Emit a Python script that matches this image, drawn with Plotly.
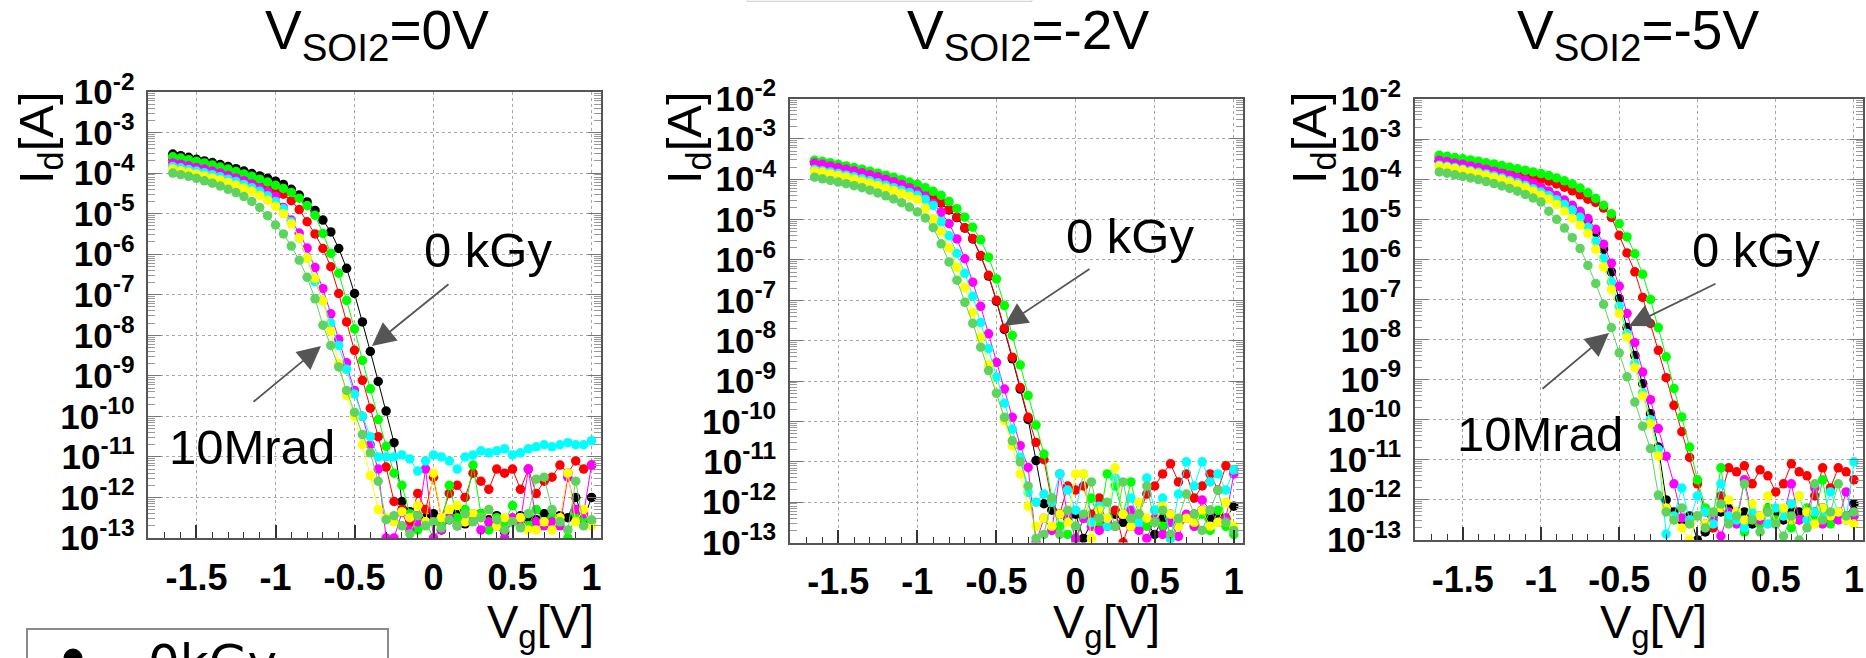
import plotly.graph_objects as go

# ---------------- data (log10 of drain current I_d [A]) -------------
vg = [-1.65, -1.60, -1.55, -1.50, -1.45, -1.40, -1.35, -1.30, -1.25, -1.20,
      -1.15, -1.10, -1.05, -1.00, -0.95, -0.90, -0.85, -0.80, -0.75, -0.70,
      -0.65, -0.60, -0.55, -0.50, -0.45, -0.40, -0.35, -0.30, -0.25, -0.20,
      -0.15, -0.10, -0.05, 0.00, 0.05, 0.10, 0.15, 0.20, 0.25, 0.30,
      0.35, 0.40, 0.45, 0.50, 0.55, 0.60, 0.65, 0.70, 0.75, 0.80,
      0.85, 0.90, 0.95, 1.00]

# V_SOI2 = 0 V
p1_black = [-3.53, -3.57, -3.61, -3.66, -3.70, -3.74, -3.79, -3.84, -3.89, -3.95, -4.01, -4.07, -4.13, -4.20,
            -4.28, -4.40, -4.54, -4.71, -4.92, -5.16, -5.45, -5.86, -6.35, -6.97, -7.67, -8.40, -9.14, -9.87, -10.65, -12.10,
            -12.35, -12.45, -12.50, -12.40, -12.80, -12.55, -12.35, -12.65, -12.55, -12.40, -12.55, -12.45, -12.85, -12.60,
            -12.45, -12.50, -12.55, -12.40, -12.50, -12.45, -12.50, -12.00, -12.55, -12.00]
p1_green = [-3.60, -3.63, -3.67, -3.71, -3.75, -3.80, -3.85, -3.90, -3.96, -4.02, -4.08, -4.15, -4.22, -4.30,
            -4.38, -4.48, -4.62, -4.80, -5.04, -5.49, -5.98, -6.47, -7.14, -7.84, -8.62, -9.32, -10.08, -10.74, -11.40,
            -11.70, -12.40, -12.80, -12.60, -13.00, -12.70, -11.70, -12.50, -12.30, -11.20, -12.40, -12.80, -12.50,
            -12.60, -12.20, -12.50, -12.70, -12.30, -12.60, -12.50, -12.60, -13.00, -12.40, -12.50, -12.60]
p1_red = [-3.66, -3.70, -3.74, -3.78, -3.82, -3.87, -3.92, -3.97, -4.03, -4.09, -4.16, -4.23, -4.31, -4.40,
          -4.52, -4.68, -4.90, -5.20, -5.50, -5.86, -6.31, -6.97, -7.67, -8.37, -9.11, -9.80, -10.50, -11.25, -12.10,
          -12.30, -12.60, -11.90, -12.30, -11.50, -12.50, -11.90, -11.70, -12.00, -11.40, -11.60, -11.80, -11.30,
          -11.40, -11.30, -11.80, -11.30, -11.90, -11.60, -11.50, -11.20, -11.40, -11.10, -11.30, -11.20]
p1_magenta = [-3.75, -3.78, -3.82, -3.86, -3.90, -3.95, -4.00, -4.06, -4.12, -4.19, -4.27, -4.36, -4.46,
              -4.58, -4.85, -5.16, -5.48, -5.85, -6.33, -6.85, -7.47, -8.10, -8.68, -9.36, -10.00, -10.70, -11.30, -13.00, -13.00,
              -12.37, -12.80, -12.60, -11.30, -13.00, -12.80, -12.50, -12.70, -12.60, -12.40, -12.80, -12.60, -12.70,
              -13.00, -12.50, -12.60, -11.30, -12.60, -12.70, -12.60, -12.70, -11.50, -12.30, -12.40, -11.20]
p1_cyan = [-3.84, -3.87, -3.91, -3.95, -3.99, -4.04, -4.09, -4.15, -4.21, -4.28, -4.36, -4.45, -4.56, -4.70,
           -4.88, -5.20, -5.60, -6.10, -6.68, -7.15, -7.70, -8.25, -8.84, -9.45, -10.00, -10.50, -11.00,
           -11.00, -11.00, -10.95, -11.05, -11.35, -11.10, -10.95, -11.00, -11.10, -11.30, -11.00, -10.95, -10.85,
           -10.90, -10.85, -10.80, -10.95, -10.90, -10.80, -10.75, -10.70, -10.75, -10.70, -10.65, -10.70, -10.70, -10.60]
p1_yellow = [-3.90, -3.94, -3.98, -4.02, -4.07, -4.12, -4.17, -4.23, -4.30, -4.37, -4.45, -4.55, -4.67, -4.82,
             -5.00, -5.25, -5.60, -6.10, -6.60, -7.15, -7.90, -8.70, -9.48, -10.00, -10.70, -11.46,
             -12.30, -12.50, -12.60, -12.35, -12.50, -12.20, -12.60, -11.40, -12.50, -12.30, -12.20, -12.60, -12.40,
             -12.50, -12.30, -12.70, -12.50, -12.60, -12.50, -12.80, -12.80, -12.60, -12.80, -12.50, -11.40, -12.60,
             -12.30, -12.70]
p1_lgreen = [-4.00, -4.04, -4.08, -4.13, -4.19, -4.25, -4.32, -4.40, -4.48, -4.58, -4.70, -4.85, -5.05,
             -5.28, -5.50, -5.80, -6.15, -6.57, -7.10, -7.75, -8.25, -8.78, -9.36, -9.90, -10.45, -10.90, -11.60,
             -12.55, -12.45, -12.70, -12.90, -12.45, -12.70, -12.60, -12.75, -12.55, -12.70, -12.40, -12.60, -12.50,
             -12.30, -12.55, -12.80, -12.60, -12.75, -12.40, -11.55, -11.50, -12.30, -12.60, -12.80, -11.60, -12.70, -12.55]

# V_SOI2 = -2 V
p2_black = [-3.57, -3.60, -3.64, -3.68, -3.72, -3.76, -3.81, -3.86, -3.91, -3.97, -4.03, -4.10, -4.17, -4.25,
            -4.34, -4.45, -4.59, -4.76, -4.95, -5.21, -5.48, -5.90, -6.40, -7.02, -7.72, -8.45, -9.20, -9.95, -10.97, -12.04,
            -12.20, -12.30, -12.40, -12.30, -12.90, -12.50, -12.60, -12.50, -12.30, -12.50, -12.60, -12.40, -12.50,
            -12.80, -12.40, -12.30, -12.50, -12.40, -12.30, -12.20, -12.40, -12.30, -12.40, -12.10]
p2_red = [-3.56, -3.59, -3.63, -3.67, -3.71, -3.75, -3.80, -3.85, -3.90, -3.96, -4.02, -4.09, -4.16, -4.24,
          -4.33, -4.44, -4.58, -4.75, -4.94, -5.20, -5.47, -5.89, -6.38, -7.00, -7.69, -8.41, -9.16, -9.90, -10.52, -10.95,
          -12.00, -12.30, -11.60, -11.70, -11.60, -12.30, -11.90, -12.60, -12.20, -13.00, -12.40, -12.30, -11.80,
          -11.60, -11.30, -11.05, -11.50, -11.30, -11.90, -11.60, -11.30, -11.70, -11.10, -11.20]
p2_green = [-3.53, -3.56, -3.59, -3.63, -3.67, -3.71, -3.75, -3.80, -3.85, -3.90, -3.95, -4.01, -4.07, -4.13,
            -4.21, -4.30, -4.40, -4.55, -4.73, -4.94, -5.19, -5.50, -5.93, -6.47, -7.13, -7.87, -8.60, -9.36, -10.09,
            -10.81, -11.90,
            -12.60, -12.80, -13.00, -12.40, -11.90, -12.50, -11.30, -11.60, -12.30, -11.50, -12.40, -12.60, -12.20,
            -12.60, -12.90, -12.50, -12.40, -12.60, -12.30, -12.70, -12.20, -12.60, -12.80]
p2_magenta = [-3.60, -3.63, -3.67, -3.71, -3.75, -3.79, -3.84, -3.89, -3.94, -4.00, -4.06, -4.13, -4.21, -4.30,
              -4.42, -4.60, -4.82, -5.10, -5.48, -5.97, -6.55, -7.15, -7.83, -8.54, -9.20, -9.90, -10.60, -11.14, -13.00,
              -12.40, -12.70, -11.30, -12.30, -12.90, -12.40, -12.60, -12.70, -12.50, -12.60, -12.30, -12.20, -12.70,
              -12.90, -12.40, -12.80, -12.50, -12.85, -12.30, -12.60, -11.95, -12.20, -12.50, -12.40, -11.30]
p2_cyan = [-3.76, -3.79, -3.82, -3.86, -3.90, -3.94, -3.99, -4.04, -4.09, -4.15, -4.21, -4.27, -4.33, -4.40,
           -4.50, -4.65, -5.05, -5.40, -5.84, -6.33, -6.90, -7.55, -8.20, -8.90, -9.55, -10.19, -10.89, -11.76, -12.00,
           -11.80, -12.00, -11.30, -11.70, -12.20, -11.30, -12.50, -12.10, -12.60, -11.40, -12.30, -11.90, -12.50,
           -11.40, -12.20, -11.90, -12.90, -11.80, -11.00, -11.60, -11.00, -11.50, -11.30, -11.70, -11.20]
p2_yellow = [-3.80, -3.83, -3.87, -3.91, -3.95, -4.00, -4.05, -4.10, -4.16, -4.22, -4.28, -4.35, -4.42, -4.50,
             -4.72, -4.98, -5.30, -5.70, -6.18, -6.68, -7.30, -7.92, -8.60, -9.30, -9.98, -10.60, -11.30, -12.10,
             -12.60, -12.40, -12.60, -12.30, -12.50, -11.30, -11.30, -12.90, -12.20, -12.40, -11.15, -12.30, -12.60,
             -12.00, -12.40, -12.50, -12.10, -12.30, -12.60, -12.40, -12.50, -12.20, -12.60, -12.50, -12.00, -12.60]
p2_lgreen = [-3.95, -3.99, -4.03, -4.07, -4.11, -4.16, -4.21, -4.27, -4.34, -4.41, -4.49, -4.58, -4.69, -4.81,
             -4.96, -5.20, -5.60, -6.05, -6.50, -7.05, -7.57, -8.16, -8.74, -9.30, -9.90, -10.48, -11.00, -11.60,
             -12.90, -12.80, -11.90, -12.80, -12.20, -12.60, -12.30, -11.50, -12.40, -12.00, -12.60, -11.50, -12.40,
             -12.30, -11.60, -12.50, -12.20, -12.80, -12.40, -11.80, -12.30, -12.70, -12.20, -11.70, -12.50, -12.70]

# V_SOI2 = -5 V
p3_black = [-3.55, -3.58, -3.62, -3.65, -3.69, -3.73, -3.77, -3.82, -3.87, -3.92, -3.98, -4.04, -4.12, -4.22,
            -4.32, -4.44, -4.57, -4.72, -4.87, -5.04, -5.33, -5.75, -6.31, -6.98, -7.70, -8.40, -9.10, -9.85, -10.68, -12.00,
            -12.30, -12.50, -12.40, -13.00, -12.80, -12.40, -12.30, -12.20, -12.50, -12.30, -12.60, -12.40, -12.20,
            -12.30, -12.50, -12.20, -12.30, -12.40, -12.30, -12.20, -12.50, -12.30, -12.40, -12.10]
p3_red = [-3.46, -3.49, -3.52, -3.55, -3.59, -3.62, -3.66, -3.70, -3.74, -3.79, -3.84, -3.89, -3.94,
          -3.99, -4.05, -4.12, -4.20, -4.29, -4.39, -4.50, -4.58, -4.72, -4.95, -5.40, -5.84, -6.31, -6.95, -7.60,
          -8.27, -8.95, -9.64, -10.30, -10.94, -11.60,
          -12.30, -12.70, -11.90, -11.20, -11.30, -11.15, -11.60, -11.25, -11.40, -11.80, -11.60, -11.10, -11.30,
          -11.40, -11.90, -11.20, -11.70, -11.20, -11.30, -11.50]
p3_green = [-3.40, -3.43, -3.46, -3.49, -3.52, -3.55, -3.59, -3.62, -3.66, -3.70, -3.74, -3.78, -3.82,
            -3.86, -3.91, -3.97, -4.04, -4.12, -4.22, -4.34, -4.48, -4.65, -4.86, -5.11, -5.44, -5.86, -6.37, -7.00,
            -7.70, -8.43, -9.22, -9.93, -10.68, -11.50,
            -12.20, -12.40, -11.20, -12.50, -12.30, -12.80, -12.40, -12.60, -12.20, -12.50, -12.30, -12.70, -12.50,
            -12.20, -12.40, -11.50, -12.60, -12.30, -12.50, -12.40]
p3_magenta = [-3.53, -3.56, -3.60, -3.63, -3.67, -3.71, -3.75, -3.80, -3.85, -3.90, -3.96, -4.02, -4.10, -4.20,
              -4.30, -4.41, -4.52, -4.65, -4.80, -4.98, -5.25, -5.62, -6.10, -6.67, -7.35, -8.08, -8.81, -9.50, -10.22,
              -10.91, -11.60,
              -12.45, -12.50, -12.40, -12.60, -12.50, -12.90, -12.30, -12.60, -11.50, -12.40, -12.50, -12.30, -12.60,
              -12.40, -11.60, -12.50, -12.30, -11.70, -12.60, -12.40, -12.50, -11.80, -12.40]
p3_cyan = [-3.65, -3.68, -3.71, -3.75, -3.79, -3.83, -3.87, -3.92, -3.97, -4.03, -4.09, -4.16, -4.24, -4.32,
           -4.41, -4.51, -4.63, -4.77, -4.95, -5.20, -5.55, -5.98, -6.56, -7.17, -7.85, -8.60, -9.33, -10.00, -10.74, -12.85,
           -12.40, -11.70, -12.50, -11.90, -12.30, -12.60, -11.60, -12.40, -12.50, -12.70, -12.30, -12.40, -12.60,
           -12.20, -12.40, -12.10, -11.90, -12.50, -12.30, -12.40, -11.80, -12.30, -12.50, -11.05]
p3_yellow = [-3.68, -3.71, -3.74, -3.78, -3.82, -3.86, -3.91, -3.96, -4.01, -4.07, -4.14, -4.21, -4.30, -4.40,
             -4.50, -4.63, -4.80, -4.98, -5.15, -5.35, -5.75, -6.19, -6.75, -7.35, -7.94, -8.70, -9.40, -10.10, -10.90, -12.20,
             -12.50, -12.70, -13.00, -12.40, -12.60, -12.30, -12.20, -12.00, -12.30, -12.50, -12.10, -12.40, -11.90,
             -12.60, -12.20, -12.50, -11.90, -12.30, -12.60, -12.20, -12.40, -12.30, -12.50, -12.60]
p3_lgreen = [-3.82, -3.85, -3.89, -3.93, -3.97, -4.01, -4.06, -4.11, -4.17, -4.23, -4.30, -4.38, -4.47, -4.57,
             -4.80, -5.00, -5.22, -5.46, -5.73, -6.15, -6.60, -7.12, -7.70, -8.33, -8.93, -9.56, -10.16, -10.72, -11.88,
             -12.30, -12.50, -12.20, -12.60, -12.40, -12.70, -12.30, -12.10, -12.60, -12.40, -11.60, -12.50, -12.80,
             -12.30, -12.60, -12.90, -12.40, -13.00, -12.70, -11.60, -12.50, -12.30, -11.60, -12.40, -12.30]

panel_titles = ["V<sub>SOI2</sub>=0V", "V<sub>SOI2</sub>=-2V", "V<sub>SOI2</sub>=-5V"]
x_tick_vals = [-1.5, -1, -0.5, 0, 0.5, 1]
x_tick_text = ["-1.5", "-1", "-0.5", "0", "0.5", "1"]
y_exponents = [-2, -3, -4, -5, -6, -7, -8, -9, -10, -11, -12, -13]

series_colors = ["#000000", "#ff0000", "#00ff00", "#ff00ff", "#00ffff", "#ffff00", "#5fd35f"]
panel_data = [
    [p1_black, p1_red, p1_green, p1_magenta, p1_cyan, p1_yellow, p1_lgreen],
    [p2_black, p2_red, p2_green, p2_magenta, p2_cyan, p2_yellow, p2_lgreen],
    [p3_black, p3_red, p3_green, p3_magenta, p3_cyan, p3_yellow, p3_lgreen],
]

# ---------------- layout helpers ----------------
W, H = 1866, 658


def px(x):
    return x / W


def py(y):
    return 1 - y / H


boxes = [(148.3, 600.7, 92.0, 538.0), (790.0, 1243.0, 98.5, 542.5), (1415.0, 1863.0, 99.0, 540.0)]
title_x = [377, 1028, 1638]
ylabel_x = [39, 687, 1312]
xlabel_x = [540, 1106, 1653]

fig = go.Figure()

for i, series in enumerate(panel_data):
    ax_id = "" if i == 0 else str(i + 1)
    for logs, col in zip(series, series_colors):
        fig.add_trace(go.Scatter(
            x=vg, y=[10 ** v for v in logs], mode="lines+markers",
            line=dict(color=col, width=1),
            marker=dict(color=col, size=9.5),
            xaxis="x" + ax_id, yaxis="y" + ax_id, showlegend=False, hoverinfo="skip"))

tick_font = dict(family="Liberation Sans", size=36, color="black", weight="bold")
ytick_font = dict(family="Liberation Sans", size=35, color="black", weight="bold")
minor_y = [k * 10.0 ** n for n in range(-13, -2) for k in range(2, 10)]

for i, (x0, x1, y0, y1) in enumerate(boxes):
    ax_id = "" if i == 0 else str(i + 1)
    fig.layout["xaxis" + ax_id] = dict(
        domain=[px(x0), px(x1)], range=[-1.805, 1.058], anchor="y" + ax_id, automargin=False,
        tickmode="array", tickvals=x_tick_vals, ticktext=x_tick_text,
        ticks="inside", ticklen=13, tickwidth=1.5, tickcolor="#333",
        showline=True, linecolor="#555", linewidth=1.5, mirror=True,
        showgrid=True, gridcolor="#a8a8a8", griddash="dot", gridwidth=1,
        zeroline=False, tickfont=tick_font, ticklabelstandoff=7,
        minor=dict(tickmode="linear", tick0=0, dtick=0.1, ticks="inside",
                   ticklen=6, tickwidth=1, tickcolor="#333", showgrid=False))
    fig.layout["yaxis" + ax_id] = dict(
        domain=[py(y1), py(y0)], type="log", range=[-13, -2], anchor="x" + ax_id, automargin=False,
        tickmode="array", tickvals=[10.0 ** e for e in y_exponents],
        ticktext=["10<sup>%d</sup>" % e for e in y_exponents],
        ticks="inside", ticklen=13, tickwidth=1.2, tickcolor="#777",
        showline=True, linecolor="#555", linewidth=1.5, mirror="allticks",
        showgrid=True, gridcolor="#a8a8a8", griddash="dot", gridwidth=1,
        zeroline=False, tickfont=ytick_font, ticklabelstandoff=5,
        minor=dict(tickmode="array", tickvals=minor_y, ticks="inside",
                   ticklen=7, tickwidth=1, tickcolor="#999", showgrid=False))

annotations = []
for i in range(3):
    annotations.append(dict(text=panel_titles[i], x=px(title_x[i]), y=py(34), xref="paper", yref="paper",
                            xanchor="center", yanchor="middle", showarrow=False,
                            font=dict(family="Liberation Sans", size=55, color="black")))
    annotations.append(dict(text="I<sub>d</sub>[A]", x=px(ylabel_x[i]), y=py(138), xref="paper", yref="paper",
                            xanchor="center", yanchor="middle", showarrow=False, textangle=-90,
                            font=dict(family="Liberation Sans", size=49, color="black")))
    annotations.append(dict(text="V<sub>g</sub>[V]", x=px(xlabel_x[i]), y=py(625), xref="paper", yref="paper",
                            xanchor="center", yanchor="middle", showarrow=False,
                            font=dict(family="Liberation Sans", size=47, color="black")))

label_font = dict(family="Liberation Sans", size=49, color="black")
text_labels = [("0 kGy", 488, 250), ("10Mrad", 252, 447), ("0 kGy", 1130, 236),
               ("0 kGy", 1756, 250), ("10Mrad", 1540, 434)]
for t, x, y in text_labels:
    annotations.append(dict(text=t, x=px(x), y=py(y), xref="paper", yref="paper",
                            xanchor="center", yanchor="middle", showarrow=False, font=label_font))

arrows = [((372, 346), (450, 283)), ((321, 346), (252, 403)), ((1004, 326), (1091, 268)),
          ((1629, 326), (1717, 283)), ((1609, 333), (1541, 390))]
for (tx, ty), (sx, sy) in arrows:
    annotations.append(dict(text="", x=px(tx), y=py(ty), xref="paper", yref="paper",
                            ax=sx - tx, ay=sy - ty, showarrow=True, arrowhead=2, arrowsize=2.6,
                            arrowwidth=1.8, arrowcolor="#555", standoff=0))

# partially visible legend
annotations.append(dict(text="0kGy", x=px(212), y=py(632), xref="paper", yref="paper",
                        xanchor="center", yanchor="top", showarrow=False,
                        font=dict(family="DejaVu Sans", size=50, color="black")))

shapes = [
    dict(type="rect", xref="paper", yref="paper", x0=px(27), x1=px(388), y0=py(720), y1=py(629),
         line=dict(color="#8a8a8a", width=2), fillcolor="rgba(0,0,0,0)", layer="below"),
    dict(type="circle", xref="paper", yref="paper", x0=px(64), x1=px(82), y0=py(667), y1=py(649),
         line=dict(color="black", width=1), fillcolor="black"),
    dict(type="rect", xref="paper", yref="paper", x0=px(747), x1=px(1032), y0=py(1.5), y1=py(-30),
         line=dict(color="#d6d6d6", width=1), fillcolor="#f4f4f4"),
]

fig.update_layout(width=W, height=H, margin=dict(l=0, r=0, t=0, b=0, autoexpand=False),
                  paper_bgcolor="white", plot_bgcolor="white", showlegend=False,
                  annotations=annotations, shapes=shapes)

fig.write_html("out.html")
